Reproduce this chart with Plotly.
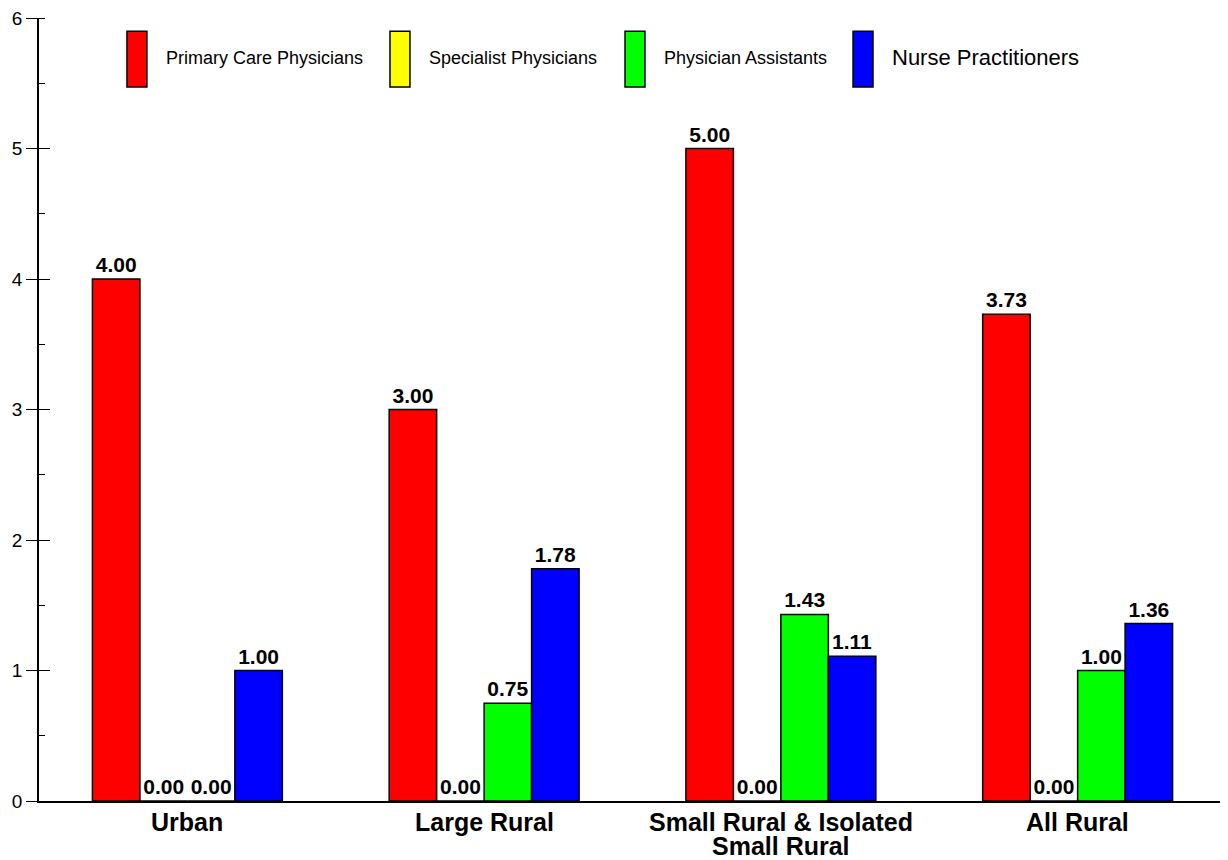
import plotly.graph_objects as go

categories = ["Urban", "Large Rural", "Small Rural & Isolated<br>Small Rural", "All Rural"]
series_names = ["Primary Care Physicians", "Specialist Physicians", "Physician Assistants", "Nurse Practitioners"]
primary_care = [4.00, 3.00, 5.00, 3.73]
specialist = [0.00, 0.00, 0.00, 0.00]
phys_assist = [0.00, 0.75, 1.43, 1.00]
nurse_pract = [1.00, 1.78, 1.11, 1.36]
series_values = [primary_care, specialist, phys_assist, nurse_pract]
colors = ["#FF0000", "#FFFF00", "#00FF00", "#0000FF"]
legend_font_sizes = [18, 18, 18, 22]
y_tick_values = [0, 1, 2, 3, 4, 5, 6]

FONT = "Liberation Sans, Arial, Helvetica, sans-serif"

fig = go.Figure()
for name, vals, col in zip(series_names, series_values, colors):
    fig.add_trace(go.Bar(
        x=categories, y=vals, name=name,
        marker=dict(color=col, line=dict(color="black", width=1.5)),
        text=[f"{v:.2f}" for v in vals],
        textposition="outside",
        textfont=dict(family=FONT, size=21, color="black", weight="bold"),
        cliponaxis=False,
        showlegend=False,
    ))

# custom legend (tall colored keys)
legend_x = [0.0741, 0.2957, 0.4937, 0.6858]
shapes = []
annotations = []
for i, (name, col, fs) in enumerate(zip(series_names, colors, legend_font_sizes)):
    x0 = legend_x[i]
    shapes.append(dict(type="rect", xref="paper", yref="paper",
                       x0=x0, x1=x0 + 0.0168, y0=0.912, y1=0.983,
                       fillcolor=col, line=dict(color="black", width=1.5)))
    annotations.append(dict(xref="paper", yref="paper", x=x0 + 0.0312, y=0.949,
                            xanchor="left", yanchor="middle", showarrow=False,
                            text=name, font=dict(family=FONT, size=fs, color="black")))

# category labels (tight line spacing, one annotation per line)
for cat in categories:
    for j, line in enumerate(cat.split("<br>")):
        annotations.append(dict(xref="x", yref="paper", x=cat, y=-0.0268 - j * 0.0307,
                                xanchor="center", yanchor="middle", showarrow=False,
                                text=line,
                                font=dict(family=FONT, size=25, color="black", weight="bold")))

# the page adds an 8px body margin, so the figure is sized/shifted to compensate
fig.update_layout(
    width=1220, height=852,
    margin=dict(l=31, r=2, t=10, b=59),
    paper_bgcolor="white", plot_bgcolor="white",
    barmode="group", bargap=0.36, bargroupgap=0,
    font=dict(family=FONT, color="black"),
    shapes=shapes, annotations=annotations,
    xaxis=dict(
        showline=True, linecolor="black", linewidth=1.5,
        ticks="", showgrid=False, zeroline=False, showticklabels=False,
        range=[-0.5, 3.5], automargin=False,
    ),
    yaxis=dict(
        range=[0, 6], tickvals=y_tick_values,
        showline=True, linecolor="black", linewidth=1.5,
        ticks="outside", ticklen=11, tickwidth=1.2, tickcolor="black",
        showgrid=False, zeroline=False, automargin=False,
        ticklabeloverflow="allow",
        tickfont=dict(family=FONT, size=19, color="black"),
        minor=dict(dtick=0.5, ticks="inside", ticklen=6, tickwidth=1.2, tickcolor="black"),
    ),
    yaxis2=dict(
        overlaying="y", matches="y", side="left", anchor="x",
        range=[0, 6], tickvals=y_tick_values, automargin=False,
        ticks="inside", ticklen=11, tickwidth=1.2, tickcolor="black",
        showticklabels=False, showgrid=False, zeroline=False, showline=False,
    ),
)
fig.add_trace(go.Scatter(x=[categories[0]], y=[0], yaxis="y2", mode="markers",
                         marker=dict(opacity=0), showlegend=False, hoverinfo="skip"))

fig.write_html("out.html")
